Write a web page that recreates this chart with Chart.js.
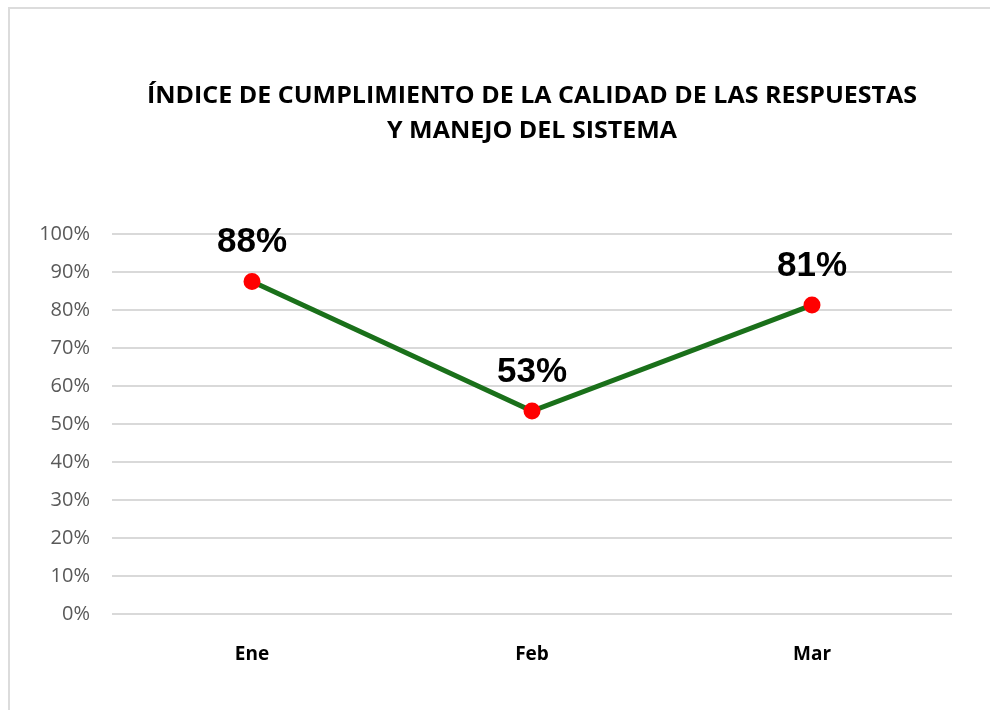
<!DOCTYPE html>
<html>
<head>
<meta charset="utf-8">
<script src="https://cdn.jsdelivr.net/npm/chart.js@4/dist/chart.umd.min.js"></script>
<style>
  html, body { margin: 0; padding: 0; background: #fff; }
  #wrap { position: absolute; left: 0; top: 0; width: 990px; height: 710px; }
  #frame { position: absolute; left: 8px; top: 7px; width: 990px; height: 710px;
           border-top: 2px solid #dcdcdc; border-left: 2px solid #dcdcdc; }
  canvas { position: absolute; left: 0; top: 0; }
</style>
</head>
<body>
<div id="wrap">
  <div id="frame"></div>
  <canvas id="chart" width="990" height="710"></canvas>
</div>
<script>
// --- datos ---
const categories = ['Ene', 'Feb', 'Mar'];
const cumplimiento = [87.5, 53.4, 81.3];
const yTicks = [0, 10, 20, 30, 40, 50, 60, 70, 80, 90, 100];
const titleLines = ['ÍNDICE DE CUMPLIMIENTO DE LA CALIDAD DE LAS RESPUESTAS', 'Y MANEJO DEL SISTEMA'];

const titleFont = 'bold 24px "Liberation Sans Narrow", "Open Sans", sans-serif';

// título centrado sobre el área del gráfico
const titlePlugin = {
  id: 'titulo',
  afterDraw(chart) {
    const ctx = chart.ctx;
    const cx = (chart.chartArea.left + chart.chartArea.right) / 2;
    ctx.save();
    ctx.font = titleFont;
    ctx.fillStyle = '#000';
    ctx.textAlign = 'center';
    ctx.textBaseline = 'middle';
    const target = [770, 290];
    titleLines.forEach((line, i) => {
      const w = ctx.measureText(line).width;
      const sx = target[i] / w;
      ctx.save();
      ctx.translate(cx, 96 + i * 35);
      ctx.scale(sx, 1);
      ctx.fillText(line, 0, 0);
      ctx.restore();
    });
    ctx.restore();
  }
};

// etiquetas de valor sobre los puntos
const labelPlugin = {
  id: 'etiquetas',
  afterDatasetsDraw(chart) {
    const ctx = chart.ctx;
    const meta = chart.getDatasetMeta(0);
    ctx.save();
    ctx.font = 'bold 35px "Liberation Sans", Arial, sans-serif';
    ctx.fillStyle = '#000';
    ctx.textAlign = 'center';
    ctx.textBaseline = 'middle';
    meta.data.forEach((pt, i) => {
      ctx.fillText(Math.round(cumplimiento[i]) + '%', pt.x, pt.y - 39);
    });
    ctx.restore();
  }
};

new Chart(document.getElementById('chart'), {
  type: 'line',
  data: {
    labels: categories,
    datasets: [{
      data: cumplimiento,
      borderColor: '#1a701a',
      borderWidth: 5,
      pointBackgroundColor: '#ff0000',
      pointBorderColor: '#ff0000',
      pointRadius: 6,
      tension: 0
    }]
  },
  options: {
    responsive: false,
    animation: false,
    layout: { padding: { left: 0, right: 38, top: 234, bottom: 0 } },
    plugins: { legend: { display: false }, tooltip: { enabled: false }, title: { display: false } },
    scales: {
      x: {
        offset: true,
        grid: { display: false },
        border: { display: false },
        ticks: { color: '#000', padding: 21, font: { family: '"Open Sans", sans-serif', size: 19, weight: 'bold' } },
        afterFit(scale) { scale.height = 96; }
      },
      y: {
        min: 0,
        max: 100,
        afterBuildTicks(scale) { scale.ticks = yTicks.map(v => ({ value: v })); },
        grid: { color: '#d9d9d9', lineWidth: 2, drawTicks: false },
        border: { display: false },
        ticks: {
          color: '#595959',
          padding: 22,
          font: { family: '"Open Sans", sans-serif', size: 20 },
          callback: v => v + '%'
        },
        afterFit(scale) { scale.width = 112; }
      }
    }
  },
  plugins: [titlePlugin, labelPlugin]
});
</script>
</body>
</html>
